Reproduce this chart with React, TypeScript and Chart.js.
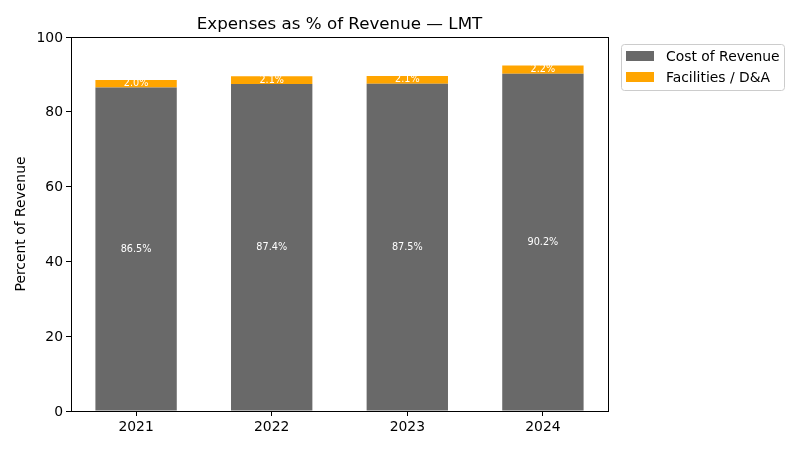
import React, { useEffect, useRef } from 'react';
import { Chart, registerables } from 'chart.js';

Chart.register(...registerables);

const years = ['2021', '2022', '2023', '2024'];
const costOfRevenue = [86.5, 87.4, 87.5, 90.2];
const facilities = [2.0, 2.1, 2.1, 2.2];
const yTicks = [0, 20, 40, 60, 80, 100];

const GRAY = '#696969';
const ORANGE = '#ffa500';
const FONT = '"DejaVu Sans", sans-serif';

// title, frame, in-bar labels and legend box (matplotlib look)
const decorPlugin = {
  id: 'decor',
  afterDatasetsDraw(chart: any) {
    const { ctx, chartArea: a } = chart;
    ctx.save();

    // labels inside segments
    ctx.fillStyle = '#ffffff';
    ctx.font = `9.7px ${FONT}`;
    ctx.textAlign = 'center';
    ctx.textBaseline = 'middle';
    chart.data.datasets.forEach((ds: any, di: number) => {
      const meta = chart.getDatasetMeta(di);
      meta.data.forEach((bar: any, i: number) => {
        const y = (bar.y + bar.base) / 2;
        ctx.fillText(ds.data[i].y.toFixed(1) + '%', bar.x, y);
      });
    });

    // frame
    ctx.strokeStyle = '#000';
    ctx.lineWidth = 1;
    ctx.strokeRect(Math.round(a.left) + 0.5, Math.round(a.top) + 0.5, Math.round(a.right - a.left), Math.round(a.bottom - a.top));

    // title
    ctx.fillStyle = '#000';
    ctx.font = `16.7px ${FONT}`;
    ctx.textBaseline = 'alphabetic';
    ctx.fillText('Expenses as % of Revenue \u2014 LMT', (a.left + a.right) / 2, 29);

    // legend
    const lx = 621, ly = 44, lw = 163, lh = 46;
    ctx.beginPath();
    ctx.roundRect(lx + 0.5, ly + 0.5, lw, lh, 3);
    ctx.fillStyle = 'rgba(255,255,255,0.8)';
    ctx.fill();
    ctx.strokeStyle = '#cccccc';
    ctx.stroke();
    ctx.font = `13.9px ${FONT}`;
    ctx.textAlign = 'left';
    ctx.textBaseline = 'middle';
    chart.data.datasets.forEach((ds: any, di: number) => {
      const cy = ly + 12 + di * 21;
      ctx.fillStyle = ds.backgroundColor;
      ctx.fillRect(lx + 5, cy - 5, 28, 10);
      ctx.fillStyle = '#000';
      ctx.fillText(ds.label, lx + 45, cy + 1);
    });

    ctx.restore();
  },
};

const ExpenseChart: React.FC = () => {
  const canvasRef = useRef<HTMLCanvasElement>(null);
  const chartRef = useRef<Chart | null>(null);

  useEffect(() => {
    if (!canvasRef.current) return;
    if (chartRef.current) chartRef.current.destroy();
    const ctx = canvasRef.current.getContext('2d');
    if (!ctx) return;

    chartRef.current = new Chart(ctx, {
      type: 'bar',
      data: {
        datasets: [
          {
            label: 'Cost of Revenue',
            data: costOfRevenue.map((v, i) => ({ x: i, y: v })),
            backgroundColor: GRAY,
            borderWidth: 0,
            barPercentage: 0.6,
            categoryPercentage: 1,
          },
          {
            label: 'Facilities / D&A',
            data: facilities.map((v, i) => ({ x: i, y: v })),
            backgroundColor: ORANGE,
            borderWidth: 0,
            barPercentage: 0.6,
            categoryPercentage: 1,
          },
        ],
      },
      options: {
        responsive: false,
        animation: false,
        layout: { padding: { left: 0, top: 37, right: 192, bottom: 0 } },
        plugins: {
          legend: { display: false },
          tooltip: { enabled: false },
          title: { display: false },
        },
        scales: {
          x: {
            type: 'linear',
            stacked: true,
            offset: false,
            min: -0.48,
            max: 3.48,
            afterFit: (s: any) => { s.height = 39; },
            afterBuildTicks: (s: any) => { s.ticks = years.map((_, i) => ({ value: i })); },
            grid: { display: true, drawOnChartArea: false, offset: false, tickLength: 5, color: '#000' },
            border: { display: false },
            ticks: {
              color: '#000',
              font: { family: FONT, size: 13.9 },
              padding: 3,
              callback: (v: any) => years[v] ?? '',
            },
          },
          y: {
            stacked: true,
            min: 0,
            max: 100,
            afterFit: (s: any) => { s.width = 71; },
            afterBuildTicks: (s: any) => { s.ticks = yTicks.map((v) => ({ value: v })); },
            grid: { display: true, drawOnChartArea: false, tickLength: 5, color: '#000' },
            border: { display: false },
            ticks: { color: '#000', font: { family: FONT, size: 13.9 }, padding: 3, labelOffset: 1 },
            title: {
              display: true,
              text: 'Percent of Revenue',
              color: '#000',
              font: { family: FONT, size: 13.9 },
              padding: { top: 13, bottom: 0 },
            },
          },
        },
      },
      plugins: [decorPlugin],
    });

    return () => {
      if (chartRef.current) {
        chartRef.current.destroy();
        chartRef.current = null;
      }
    };
  }, []);

  return (
    <div style={{ position: 'absolute', left: 0, top: 0, width: 800, height: 450, background: '#fff' }}>
      <canvas ref={canvasRef} width={800} height={450} />
    </div>
  );
};

export default function App() {
  return <ExpenseChart />;
}
